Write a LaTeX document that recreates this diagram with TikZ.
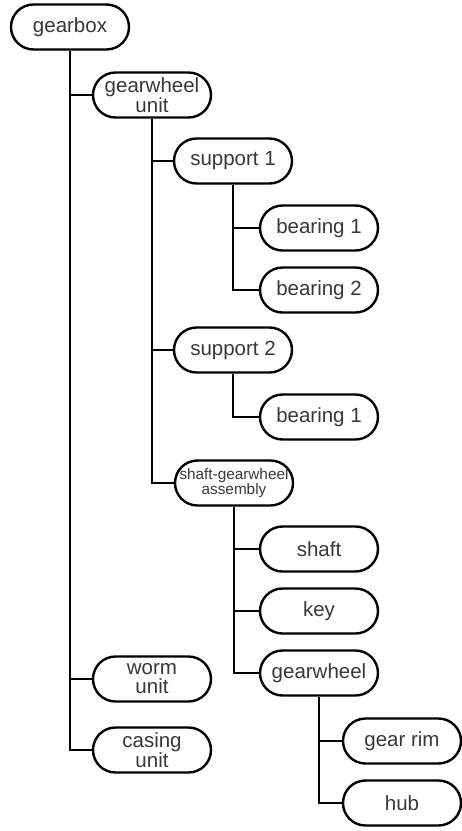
\documentclass[tikz,border=0pt]{standalone}
\usepackage{fontspec}
\setmainfont{Liberation Sans}
\begin{document}
\begin{tikzpicture}[x=1pt,y=-1pt,
  item/.style={draw=black, line width=2.4pt, rounded corners=22.5pt,
    minimum width=118pt, minimum height=45pt, inner sep=0pt, align=center,
    text=black!78, font=\fontsize{20.5}{19}\selectfont},
  smallitem/.style={item, font=\fontsize{15.3}{15}\selectfont},
  link/.style={line width=2.4pt, line join=miter}]
\useasboundingbox (0,0) rectangle (462,831);
\node[item] (gearbox) at (70,27) {gearbox};
\node[item] (gwu) at (152,95) {gearwheel\\unit};
\node[item] (s1) at (233,161) {support 1};
\node[item] (b11) at (319,228) {bearing 1};
\node[item] (b12) at (319,290) {bearing 2};
\node[item] (s2) at (233,350) {support 2};
\node[item] (b21) at (319,417) {bearing 1};
\node[smallitem] (sga) at (234,483) {shaft-gearwheel\\assembly};
\node[item] (shaft) at (319,549) {shaft};
\node[item] (key) at (319,611) {key};
\node[item] (gw) at (319,673) {gearwheel};
\node[item] (worm) at (152,679) {worm\\unit};
\node[item] (casing) at (152,750) {casing\\unit};
\node[item] (rim) at (402,741) {gear rim};
\node[item] (hub) at (402,803) {hub};
\draw[link] (gearbox.south) |- (gwu.west);
\draw[link] (gearbox.south) |- (worm.west);
\draw[link] (gearbox.south) |- (casing.west);
\draw[link] (gwu.south) |- (s1.west);
\draw[link] (gwu.south) |- (s2.west);
\draw[link] (gwu.south) |- (sga.west);
\draw[link] (s1.south) |- (b11.west);
\draw[link] (s1.south) |- (b12.west);
\draw[link] (s2.south) |- (b21.west);
\draw[link] (sga.south) |- (shaft.west);
\draw[link] (sga.south) |- (key.west);
\draw[link] (sga.south) |- (gw.west);
\draw[link] (gw.south) |- (rim.west);
\draw[link] (gw.south) |- (hub.west);
\end{tikzpicture}
\end{document}
